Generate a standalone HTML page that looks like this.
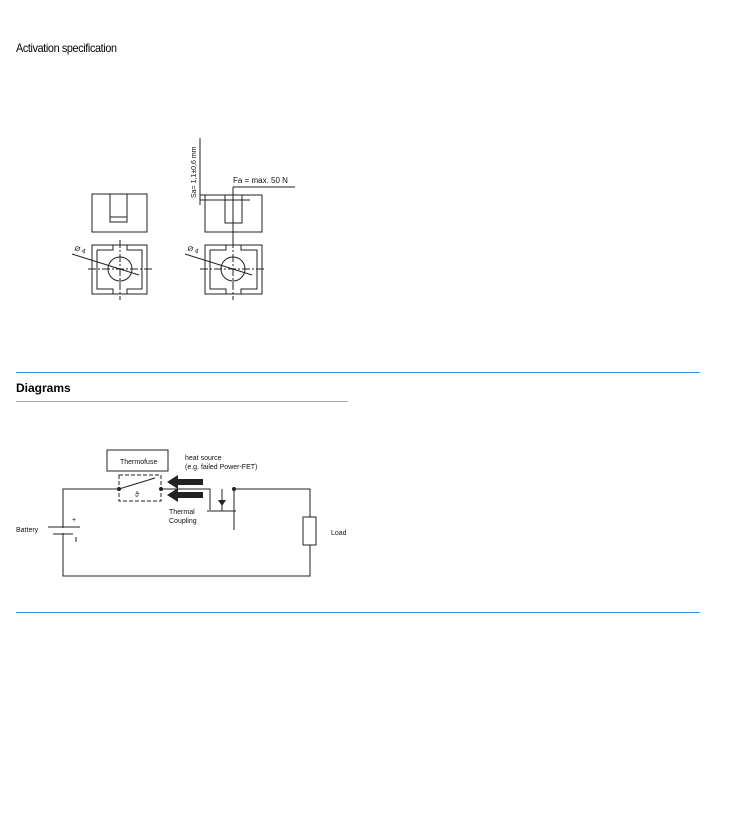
<!DOCTYPE html>
<html><head><style>
body{margin:0;width:729px;height:834px;background:#fff;position:relative;font-family:"Liberation Sans",sans-serif;overflow:hidden}
.t{position:absolute;white-space:nowrap}
</style></head><body>
<div class="t" style="left:16px;top:41px;font-size:12px;letter-spacing:-0.4px;transform:scaleX(0.9);transform-origin:left">Activation specification</div>
<div style="position:absolute;left:16px;top:372px;width:684px;height:1px;background:#3a8fd6"></div>
<div class="t" style="left:16px;top:381px;font-size:12px;font-weight:bold">Diagrams</div>
<div style="position:absolute;left:16px;top:401px;width:332px;height:1px;background:#aaa"></div>
<div style="position:absolute;left:16px;top:612px;width:684px;height:1px;background:#3a8fd6"></div>
<svg width="729" height="834" style="position:absolute;left:0;top:0" font-family="Liberation Sans,sans-serif">
<g stroke="#222" stroke-width="1" fill="none">
<rect x="92" y="194" width="55" height="38"/>
<rect x="110" y="194" width="17" height="28"/>
<line x1="110" y1="217" x2="127" y2="217"/>
<rect x="92" y="245" width="55" height="49"/>
<path d="M97 250h16v-5M127 245v5h15v39h-15v5M113 294v-5h-16v-39"/>
<circle cx="120" cy="269" r="12"/>
<line x1="88" y1="269" x2="152" y2="269" stroke-dasharray="8 2 2 2"/>
<line x1="120" y1="240" x2="120" y2="300" stroke-dasharray="8 2 2 2"/>
<line x1="72" y1="254" x2="139" y2="275"/>
<rect x="205" y="195" width="57" height="37"/>
<rect x="225" y="195" width="17" height="28" fill="#fff"/>
<line x1="200" y1="195" x2="225" y2="195"/>
<line x1="200" y1="200" x2="250" y2="200"/>
<line x1="200" y1="138" x2="200" y2="205"/>
<line x1="233" y1="187" x2="233" y2="240"/>
<line x1="233" y1="187" x2="295" y2="187"/>
<rect x="205" y="245" width="57" height="49"/>
<path d="M210 250h16v-5M241 245v5h16v39h-16v5M226 294v-5h-16v-39"/>
<circle cx="233" cy="269" r="12"/>
<line x1="200" y1="269" x2="266" y2="269" stroke-dasharray="8 2 2 2"/>
<line x1="233" y1="240" x2="233" y2="300" stroke-dasharray="8 2 2 2"/>
<line x1="185" y1="254" x2="252" y2="275"/>
<path d="M119 489H63V576H310V545M310 517V489H233"/>
<rect x="107" y="450" width="61" height="21"/>
<rect x="119" y="475" width="42" height="26" stroke-dasharray="4 2"/>
<line x1="119" y1="489" x2="155" y2="478"/>
<path d="M161 489H210V510"/>
<line x1="207" y1="511" x2="236" y2="511"/>
<path d="M234 489V511M234 511V530"/>
<rect x="303" y="517" width="13" height="28"/>
<line x1="48" y1="527" x2="80" y2="527"/>
<line x1="53" y1="534" x2="73" y2="534"/>
<line x1="76" y1="537" x2="76" y2="542"/>
</g>
<rect x="62" y="528" width="3" height="5" fill="#fff"/>
<g fill="#222">
<circle cx="119" cy="489" r="2"/><circle cx="161" cy="489" r="2"/><circle cx="234" cy="489" r="2"/>
<path d="M178 479h25v6h-25v4l-11-7 11-7z"/>
<path d="M178 492h25v6h-25v4l-11-7 11-7z"/>
<path d="M218 500h8l-4 6z"/>
<line x1="222" y1="489" x2="222" y2="511" stroke="#222"/>
</g>
<g font-size="7" fill="#111">
<text x="120" y="464">Thermofuse</text>
<text x="185" y="460">heat source</text>
<text x="185" y="469">(e.g. failed Power-FET)</text>
<text x="169" y="514">Thermal</text>
<text x="169" y="523">Coupling</text>
<text x="16" y="532">Battery</text>
<text x="331" y="535">Load</text>
<text x="72" y="522">+</text>
<text x="135" y="497">ϑ</text>
<text x="233" y="183" font-size="8">Fa = max. 50 N</text>
<text x="74" y="250" font-size="7" transform="rotate(20 74 250)">Ø 4</text>
<text x="187" y="250" font-size="7" transform="rotate(20 187 250)">Ø 4</text>
<text x="196" y="198" font-size="7" transform="rotate(-90 196 198)">Sa= 1,1±0,6 mm</text>
</g>
</svg>
</body></html>
